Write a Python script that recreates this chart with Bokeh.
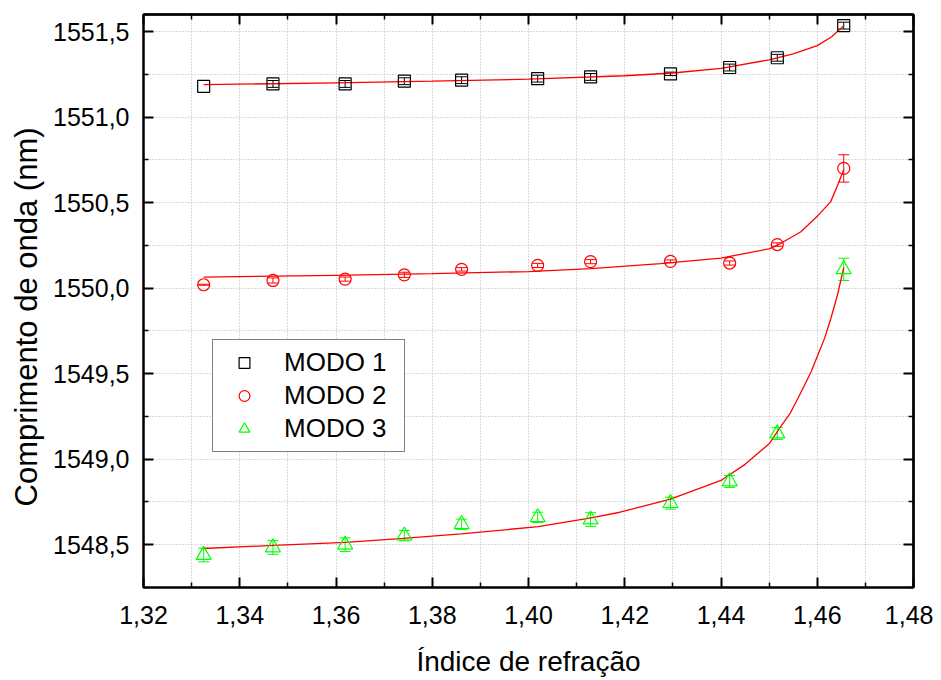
from bokeh.plotting import figure
from bokeh.models import (ColumnDataSource, Whisker, TeeHead, LinearAxis, Legend,
                          LegendItem, Range1d, FixedTicker, Title)
from bokeh.embed import file_html
from bokeh.resources import INLINE

# ---------------- data ----------------
n_index = [1.3325, 1.3469, 1.3619, 1.3742, 1.3861, 1.4019, 1.4129, 1.4295, 1.4418, 1.4517, 1.4655]

modo1 = [1551.180, 1551.194, 1551.194, 1551.210, 1551.216, 1551.225, 1551.235, 1551.253, 1551.290, 1551.347, 1551.535]
err1 = [0.0, 0.02, 0.02, 0.02, 0.02, 0.02, 0.02, 0.01, 0.02, 0.02, 0.02]

modo2 = [1550.020, 1550.045, 1550.053, 1550.078, 1550.110, 1550.133, 1550.155, 1550.157, 1550.147, 1550.255, 1550.700]
err2 = [0.003, 0.015, 0.012, 0.015, 0.010, 0.012, 0.012, 0.008, 0.012, 0.010, 0.080]

modo3 = [1548.440, 1548.484, 1548.500, 1548.553, 1548.620, 1548.660, 1548.647, 1548.743, 1548.870, 1549.150, 1550.110]
err3 = [0.040, 0.040, 0.040, 0.030, 0.030, 0.030, 0.040, 0.035, 0.035, 0.035, 0.065]

# fitted curves
fit1_x = [1.3325, 1.36, 1.38, 1.40, 1.42, 1.43, 1.44, 1.45, 1.455, 1.46, 1.463, 1.4655]
fit1_y = [1551.190, 1551.200, 1551.210, 1551.222, 1551.242, 1551.258, 1551.285, 1551.335, 1551.370, 1551.418, 1551.470, 1551.535]

fit2_x = [1.3325, 1.36, 1.38, 1.40, 1.413, 1.4274, 1.44, 1.45, 1.452, 1.4566, 1.46, 1.4628, 1.464, 1.4655]
fit2_y = [1550.065, 1550.075, 1550.085, 1550.097, 1550.114, 1550.143, 1550.176, 1550.230, 1550.255, 1550.330, 1550.420, 1550.506, 1550.585, 1550.692]

fit3_x = [1.3325, 1.347, 1.362, 1.374, 1.386, 1.402, 1.413, 1.419, 1.4295, 1.44, 1.445, 1.45, 1.4524, 1.4544, 1.4566, 1.4587, 1.46, 1.4615, 1.4628, 1.4642, 1.4655]
fit3_y = [1548.478, 1548.496, 1548.514, 1548.537, 1548.563, 1548.606, 1548.657, 1548.690, 1548.767, 1548.876, 1548.970, 1549.090, 1549.190, 1549.270, 1549.390, 1549.510, 1549.600, 1549.705, 1549.820, 1549.960, 1550.120]

x_ticks = [1.32, 1.34, 1.36, 1.38, 1.40, 1.42, 1.44, 1.46, 1.48]
x_tick_labels = ["1,32", "1,34", "1,36", "1,38", "1,40", "1,42", "1,44", "1,46", "1,48"]
x_minor = [1.33, 1.35, 1.37, 1.39, 1.41, 1.43, 1.45, 1.47]
y_ticks = [1548.5, 1549.0, 1549.5, 1550.0, 1550.5, 1551.0, 1551.5]
y_tick_labels = ["1548,5", "1549,0", "1549,5", "1550,0", "1550,5", "1551,0", "1551,5"]
y_minor = [1548.25, 1548.75, 1549.25, 1549.75, 1550.25, 1550.75, 1551.25]

FONT = "Liberation Sans"

p = figure(width=933, height=679, x_range=Range1d(1.32, 1.48), y_range=Range1d(1548.25, 1551.6),
           output_backend="svg", toolbar_location=None,
           min_border_left=143, min_border_right=20, min_border_top=14, min_border_bottom=90)
p.background_fill_color = "white"
p.border_fill_color = "white"
p.outline_line_color = "black"
p.outline_line_width = 2


def style_axis(ax):
    ax.axis_line_color = "black"
    ax.axis_line_width = 2
    ax.major_tick_in = 10
    ax.major_tick_out = 0
    ax.minor_tick_in = 5
    ax.minor_tick_out = 0
    ax.major_tick_line_width = 2
    ax.minor_tick_line_width = 1.5
    ax.major_tick_line_color = "black"
    ax.minor_tick_line_color = "black"
    ax.major_label_text_font = FONT
    ax.major_label_text_font_size = "25px"
    ax.major_label_text_color = "black"
    ax.axis_label_text_font = FONT
    ax.axis_label_text_font_style = "normal"
    ax.axis_label_text_color = "black"


xb = p.xaxis[0]
yl = p.yaxis[0]
xb.ticker = FixedTicker(ticks=x_ticks, minor_ticks=x_minor)
yl.ticker = FixedTicker(ticks=y_ticks, minor_ticks=y_minor)
style_axis(xb)
style_axis(yl)
xb.major_label_overrides = {t: l for t, l in zip(x_ticks, x_tick_labels)}
yl.major_label_overrides = {t: l for t, l in zip(y_ticks, y_tick_labels)}
xb.axis_label = "Índice de refração"
xb.axis_label_text_font_size = "28px"
xb.major_label_standoff = 18
xb.axis_label_standoff = 19
yl.major_label_standoff = 14

# y axis label as a side title, placed slightly below centre like the reference
ytitle = Title(text="Comprimento de onda (nm)", align="left", offset=81,
               vertical_align="middle",
               text_font=FONT, text_font_size="31px", text_font_style="normal",
               text_color="black", standoff=12)
p.add_layout(ytitle, "left")


# mirror axes (top / right): ticks only, no labels
def mirror_axis(loc, majors, minors):
    for ticks, length in ((majors, 10), (minors, 5)):
        ax = LinearAxis(ticker=FixedTicker(ticks=[], minor_ticks=ticks))
        ax.axis_line_color = "black"
        ax.axis_line_width = 2
        ax.major_tick_in = 0
        ax.major_tick_out = 0
        ax.minor_tick_in = length
        ax.minor_tick_out = 0
        ax.minor_tick_line_color = "black"
        ax.minor_tick_line_width = 2 if length == 10 else 1.5
        ax.major_label_standoff = 0
        ax.axis_label_standoff = 0
        p.add_layout(ax, loc)


mirror_axis("above", x_ticks, x_minor)
mirror_axis("right", y_ticks, y_minor)

for g in (p.xgrid[0], p.ygrid[0]):
    g.grid_line_color = "#b4b4b4"
    g.grid_line_dash = "1 2"
    g.grid_line_width = 1
    g.minor_grid_line_color = "#b4b4b4"
    g.minor_grid_line_dash = "1 2"
    g.minor_grid_line_width = 1

# fitted lines
p.line(fit1_x, fit1_y, line_color="red", line_width=1.3)
p.line(fit2_x, fit2_y, line_color="red", line_width=1.3)
p.line(fit3_x, fit3_y, line_color="red", line_width=1.3)


def add_errors(ys, errs, color):
    xs = [x for x, e in zip(n_index, errs) if e > 0]
    lo = [y - e for y, e in zip(ys, errs) if e > 0]
    hi = [y + e for y, e in zip(ys, errs) if e > 0]
    src = ColumnDataSource(dict(x=xs, lower=lo, upper=hi))
    w = Whisker(base="x", lower="lower", upper="upper", source=src, dimension="height",
                line_color=color, line_width=1,
                upper_head=TeeHead(size=11, line_color=color, line_width=1),
                lower_head=TeeHead(size=11, line_color=color, line_width=1))
    p.add_layout(w)


add_errors(modo1, err1, "black")
add_errors(modo2, err2, "red")
add_errors(modo3, err3, "#00ff00")

r1 = p.scatter(n_index, modo1, marker="square", size=12, fill_color=None, line_color="black", line_width=1.2)
r2 = p.scatter(n_index, modo2, marker="circle", size=12, fill_color=None, line_color="red", line_width=1.2)
r3 = p.scatter(n_index, modo3, marker="triangle", size=15, fill_color=None, line_color="#00ff00", line_width=1.2)

legend = Legend(items=[LegendItem(label="MODO 1", renderers=[r1]),
                       LegendItem(label="MODO 2", renderers=[r2]),
                       LegendItem(label="MODO 3", renderers=[r3])],
                location=(69, 135))
legend.label_text_font = FONT
legend.label_text_font_size = "26px"
legend.label_text_color = "black"
legend.border_line_color = "black"
legend.border_line_width = 1.5
legend.background_fill_color = "white"
legend.background_fill_alpha = 1
legend.padding = 7
legend.spacing = 2
legend.label_height = 27
legend.glyph_height = 27
legend.glyph_width = 48
legend.label_standoff = 16
legend.label_width = 113
legend.margin = 0
p.add_layout(legend)

open("out.html", "w").write(file_html(p, INLINE))
